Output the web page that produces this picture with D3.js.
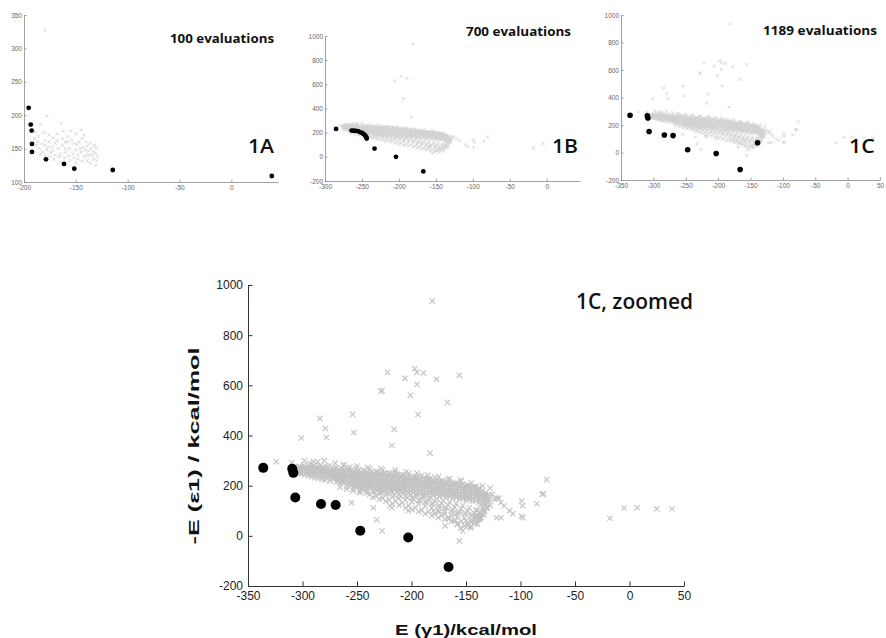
<!DOCTYPE html>
<html><head><meta charset="utf-8">
<script src="https://cdn.jsdelivr.net/npm/d3@7"></script>
<style>body{margin:0;background:#fff}</style>
</head><body><svg id="c" width="886" height="638"></svg>
<script>
// ---------- tick labels ----------
const ticks1AX = [-200, -150, -100, -50, 0];
const ticks1AY = [100, 150, 200, 250, 300, 350];
const ticks1BX = [-300, -250, -200, -150, -100, -50, 0];
const ticksEY = [-200, 0, 200, 400, 600, 800, 1000];
const ticks1CX = [-350, -300, -250, -200, -150, -100, -50, 0, 50];

// ---------- panel titles ----------
const evalLabels = ["100 evaluations", "700 evaluations", "1189 evaluations"];
const panelLabels = ["1A", "1B", "1C"];
const zoomTitle = "1C, zoomed";
const xTitle = "E (γ1)/kcal/mol";
const yTitle = "-E (ε1) / kcal/mol";

// ---------- 1A: evaluated points (gray) and front (black) ----------
const cloud1A = [[-178,199],[-184,186],[-164,188],[-189,175],[-181,174],[-186,168],[-176,170],[-172,166],[-168,172],[-162,176],
[-158,168],[-155,176],[-150,172],[-145,178],[-142,170],[-140,160],[-136,158],[-132,155],[-130,150],[-131,143],[-129,138],
[-133,134],[-136,128],[-140,140],[-143,152],[-147,160],[-152,158],[-156,150],[-160,160],[-163,155],[-167,150],[-170,158],
[-173,152],[-176,160],[-180,162],[-183,157],[-187,160],[-185,150],[-182,145],[-178,148],[-174,144],[-170,140],[-165,142],
[-160,145],[-157,139],[-153,142],[-150,148],[-148,140],[-145,145],[-142,138],[-138,146],[-135,150],[-134,140],[-139,132],
[-144,131],[-148,134],[-152,136],[-156,132],[-161,136],[-166,138],[-171,134],[-175,138],[-179,140],[-184,142],[-190,165],
[-188,155],[-180,155],[-172,147],[-163,165],[-158,160],[-154,163],[-149,156],[-146,150],[-141,148],[-137,140],[-133,145],
[-130,132],[-131,125],[-160,150],[-168,162],[-177,152],[-144,165],[-139,154],[-165,130],[-150,128],[-180,327]];
const front1A = [[-195.5,211],[-193.5,186],[-192.6,177],[-192.3,157],[-192.3,145],[-178.8,134],[-161.4,127],[-151.5,120],[-114.4,118],[39,109]];

// ---------- evaluations up to 700 (shown in 1B, 1C) : rows [x, [y...]] ----------
const bandEarlyRows = [
[-276,[258,244]],[-273,[262,250,238]],[-270,[255,245,232,266]],[-267,[250,240,228,260,218]],
[-264,[258,246,234,222,268]],[-261,[252,240,228,214,262]],[-258,[247,236,224,210,258,270]],
[-255,[250,238,226,214,202,262]],[-252,[244,232,220,208,256,196]],[-249,[248,236,224,212,200,260]],
[-246,[242,230,218,206,194,254,186]],[-243,[246,234,222,210,198,258]],[-240,[240,228,216,204,192,252,180]],
[-237,[244,232,220,208,196,256]],[-234,[238,226,214,202,190,250,176]],[-231,[242,230,218,206,194,182,254]],
[-228,[236,224,212,200,188,248,172]],[-225,[240,228,216,204,192,180,250]],[-222,[234,222,210,198,186,246,168]],
[-219,[238,226,214,202,190,178,248]],[-216,[232,220,208,196,184,244,162]],[-213,[236,224,212,200,188,176,246]],
[-210,[228,216,204,192,180,240,158]],[-207,[232,220,208,196,184,172,242]],[-204,[226,214,202,190,178,236,152]],
[-201,[228,216,204,192,180,166,238]],[-198,[222,210,198,186,174,232,146]],[-195,[224,212,200,188,176,162,234]],
[-192,[218,206,194,182,170,228,140]],[-189,[220,208,196,184,172,158,230]],[-186,[214,202,190,178,166,224,134]],
[-183,[216,204,192,180,168,152,226]],[-180,[210,198,186,174,162,220,128]],[-177,[212,200,188,176,164,146,222]],
[-174,[206,194,182,170,158,216,120]],[-171,[208,196,184,172,160,140,218]],[-168,[202,190,178,166,154,212,112]],
[-165,[204,192,180,168,156,134,214]],[-162,[198,186,174,162,150,208,104]],[-159,[200,188,176,164,152,128,210]],
[-156,[194,182,170,158,146,204,96]],[-153,[196,184,172,160,148,120,206]],[-150,[190,178,166,154,142,198,90]],
[-147,[192,180,168,156,144,112,200]],[-144,[186,174,162,150,138,194,84]],[-141,[188,176,164,152,140,104,196]],
[-138,[182,170,158,146,134,190,92]],[-135,[180,168,156,144,132,110]],[-132,[172,160,148,136,124]],[-129,[164,150,138]]];
const bandEarlyFillRows = [
[-274.5,[244,231,262,219]],[-271.5,[266,238,225,250]],[-268.5,[247,229,216,272]],[-265.5,[259,241,208,194]],
[-262.5,[236,222,213,279]],[-259.5,[254,229,198,186]],[-256.5,[239,217,206,274]],[-253.5,[249,232,188,179]],
[-250.5,[236,211,199,268]],[-247.5,[246,224,179,172]],[-244.5,[229,219,192,263]],[-241.5,[244,203,171,183]],
[-238.5,[224,214,164,266]],[-235.5,[240,196,178,153]],[-232.5,[219,207,158,257]],[-229.5,[238,187,171,146]],
[-226.5,[216,201,150,262]],[-223.5,[233,182,164,138]],[-220.5,[211,194,143,251]],[-217.5,[229,175,156,128]],
[-214.5,[207,188,138,254]],[-211.5,[225,166,149,122]],[-208.5,[204,179,131,243]],[-205.5,[221,158,143,112]],
[-202.5,[199,172,121,249]],[-199.5,[217,151,136,104]],[-196.5,[195,164,112,234]],[-193.5,[213,141,127,97]],
[-190.5,[190,157,103,241]],[-187.5,[209,134,119,88]],[-184.5,[186,148,96,226]],[-181.5,[205,126,111,81]],
[-178.5,[182,139,88,233]],[-175.5,[201,117,102,72]],[-172.5,[178,131,80,218]],[-169.5,[197,109,95,66]],
[-166.5,[172,123,71,225]],[-163.5,[193,99,86,57]],[-160.5,[168,114,64,209]],[-157.5,[189,92,78,49]],
[-154.5,[164,107,58,217]],[-151.5,[184,86,70,40]],[-148.5,[160,99,49,201]],[-145.5,[181,80,65,38]],
[-142.5,[158,91,61,195]],[-139.5,[176,102,68,47]],[-136.5,[152,126,90,74]],[-133.5,[161,119,104,83]],
[-130.5,[139,127,113]]];
const sparseEarly = [[-181,936],[-206,628],[-197,666],[-189,649],[-194,484],[-183,330],
[-126,165],[-122,150],[-118,132],[-110,100],[-107,88],[-99,140],[-98,120],[-99,78],[-85,128],[-80,165],
[-18,70],[-5,110],[-160,85],[-155,30],[-145,55],[-140,75],[-135,85],[-150,60],[-279,256]];

// ---------- evaluations 701-1189 (only in 1C) ----------
const bandLateRows = [
[-305,[270,258]],[-302,[275,262,250]],[-299,[268,256,282]],[-296,[272,260,248]],[-293,[266,254,278,244]],
[-290,[270,258,246,282]],[-287,[264,252,240,276]],[-284,[268,256,244,280]],[-281,[262,250,238,274]],
[-278,[266,254,242,230,278]],
[-303.5,[264,252,276]],[-300.5,[260,248,272]],[-297.5,[264,244,276]],[-294.5,[258,240,270]],[-291.5,[262,236,274]],
[-288.5,[256,232,268]],[-285.5,[260,230,272]],[-282.5,[254,226,266]],[-279.5,[258,222,270]]];
const sparseLate = [[-301,390],[-284,468],[-279,428],[-278,392],[-254,484],[-253,412],[-228,576],[-222,652],
[-227,580],[-195,604],[-201,560],[-177,624],[-156,640],[-167,532],[-216,424],[-218,360],[-195,652],
[-324,296],[-310,292],[-290,296],[-280,300],[-255,132],[-232,64],[-227,20],[-156,-20],[-235,112],[-220,120],
[-218,112],[-203,100],[-169,40],[-153,20],[-146,32],[-165,70],[-160,60],[-158,45],[-148,40],[-142,50],
[-137,65],[-133,95],[-131,110],[-128,120],[-124,145],[-120,150],[-170,85],[-175,95],[-180,100],[-115,120],
[-122,72],[-118,72],[-98,72],[-79,168],[-76,224],[7,112],[25,108],[39,108],
[-298,300],[-293,290],[-286,295],[-275,280],[-270,290],[-262,285],[-250,278],[-240,272],[-228,268],
[-215,262],[-205,255],[-195,250],[-185,242],[-175,236],[-165,228],[-155,222],[-145,210],[-135,200],[-128,190]];

// ---------- fronts ----------
const front1B = [[-285,231],[-264,217],[-261,216],[-258,215],[-255,211],[-253,205],[-250,198],[-248,190],
[-246,180],[-245,170],[-244,160],[-243.6,151],[-233,68],[-204,0],[-167,-121]];
const front1C = [[-336,271],[-309.4,267],[-308.4,251],[-306.6,153],[-283,127],[-269.6,123],[-247,20],[-203,-7],[-166,-124]];
const front1CExtra = [[-139,71]];

// ---------- build point lists from the rows ----------
const rowsToPts = rows => rows.flatMap(r => r[1].map(v => [r[0], v]));
const evals700 = rowsToPts(bandEarlyRows).concat(rowsToPts(bandEarlyFillRows), sparseEarly);
const evals1189 = evals700.concat(rowsToPts(bandLateRows), sparseLate);

const svg = d3.select("#c");
const FONT = "'Liberation Sans', Arial, sans-serif";
const crossPath = s => `M${-s},${-s}L${s},${s}M${-s},${s}L${s},${-s}`;

function panel(o) {
  const x = d3.scaleLinear().domain(o.xd).range(o.xr);
  const y = d3.scaleLinear().domain(o.yd).range(o.yr);
  const g = svg.append("g");
  if (o.ghost) {
    g.append("g").selectAll("circle").data(o.ghost).join("circle")
      .attr("cx", d => x(d[0])).attr("cy", d => y(d[1])).attr("r", o.r).attr("fill", "#c6c6c6");
  }
  g.append("g").selectAll("path").data(o.cloud).join("path")
    .attr("transform", d => `translate(${x(d[0])},${y(d[1])})`)
    .attr("d", crossPath(o.cs)).attr("fill", "none")
    .attr("stroke", o.cc).attr("stroke-width", o.cw);
  g.append("g").selectAll("circle").data(o.front).join("circle")
    .attr("cx", d => x(d[0])).attr("cy", d => y(d[1])).attr("r", o.r).attr("fill", "#000");
  const ax = d3.axisBottom(x).tickValues(o.xt).tickSize(-o.tk).tickSizeOuter(0).tickPadding(o.tpx).tickFormat(d3.format("d"));
  const ay = d3.axisLeft(y).tickValues(o.yt).tickSize(-o.tk).tickSizeOuter(0).tickPadding(o.tpy).tickFormat(d3.format("d"));
  const gx = g.append("g").attr("transform", `translate(0,${o.yr[0]})`).call(ax);
  const gy = g.append("g").attr("transform", `translate(${o.xr[0]},0)`).call(ay);
  [gx, gy].forEach(a => {
    a.select(".domain").attr("stroke", o.ac).attr("stroke-width", o.aw);
    a.selectAll(".tick line").attr("stroke", o.ac).attr("stroke-width", o.aw);
    a.selectAll("text").attr("fill", o.tc).attr("font-family", FONT).attr("font-size", o.fs)
      .text(d => String(d).replace("-", "-"));
  });
  return { x, y, g };
}

const small = { cc: "#cfcfcf", cw: 0.8, cs: 1.5, tk: 2.5, tpx: 3.5, tpy: 2, ac: "#8a8a8a", aw: 0.8, tc: "#666", fs: 6.5 };

panel(Object.assign({}, small, { xd: [-200, 45], xr: [24, 278], yd: [100, 350], yr: [182, 15],
  xt: ticks1AX, yt: ticks1AY, cloud: cloud1A, front: front1A, r: 2.4 }));
panel(Object.assign({}, small, { xd: [-300, 45], xr: [325, 580], yd: [-200, 1000], yr: [181, 36],
  xt: ticks1BX, yt: ticksEY, cloud: evals700, front: front1B, r: 2.4 }));
panel(Object.assign({}, small, { xd: [-350, 50], xr: [621, 880], yd: [-200, 1000], yr: [180, 15],
  xt: ticks1CX, yt: ticksEY, cloud: evals1189, front: front1C.concat(front1CExtra), r: 2.8 }));

panel({ xd: [-350, 50], xr: [248, 684], yd: [-200, 1000], yr: [586, 285],
  xt: ticks1CX, yt: ticksEY, cloud: evals1189, front: front1C, ghost: front1CExtra, r: 5,
  cc: "#c2c2c2", cw: 1.1, cs: 2.7, tk: 4.5, tpx: 5.5, tpy: 5, ac: "#333", aw: 1, tc: "#222", fs: 12 });

// ---------- texts ----------
const evalPos = [[274, 43], [571, 36], [877, 35]];
const evalLen = [104, 105, 114];
evalLabels.forEach((t, i) => {
  svg.append("text").attr("x", evalPos[i][0]).attr("y", evalPos[i][1]).attr("text-anchor", "end")
    .attr("font-family", "'Open Sans', sans-serif").attr("font-weight", 700).attr("font-size", 12.5)
    .attr("textLength", evalLen[i]).attr("lengthAdjust", "spacingAndGlyphs").attr("fill", "#111").text(t);
});
const panelPos = [[248, 153], [552, 153], [849, 153]];
panelLabels.forEach((t, i) => {
  svg.append("text").attr("x", panelPos[i][0]).attr("y", panelPos[i][1])
    .attr("font-family", "'Open Sans', sans-serif").attr("font-weight", 600).attr("font-size", 19.5)
    .attr("textLength", 26).attr("lengthAdjust", "spacingAndGlyphs").attr("fill", "#111").text(t);
});
svg.append("text").attr("x", 576).attr("y", 309)
  .attr("font-family", "'Open Sans', sans-serif").attr("font-weight", 600).attr("font-size", 21)
  .attr("textLength", 117).attr("lengthAdjust", "spacingAndGlyphs").attr("fill", "#111").text(zoomTitle);
svg.append("text").attr("x", 395).attr("y", 635)
  .attr("font-family", FONT).attr("font-weight", 700).attr("font-size", 15)
  .attr("textLength", 142).attr("lengthAdjust", "spacingAndGlyphs").attr("fill", "#111").text(xTitle);
svg.append("text").attr("transform", "translate(199,446) rotate(-90)").attr("text-anchor", "middle")
  .attr("font-family", FONT).attr("font-weight", 700).attr("font-size", 15)
  .attr("textLength", 197).attr("lengthAdjust", "spacingAndGlyphs").attr("fill", "#111").text(yTitle);
</script></body></html>
